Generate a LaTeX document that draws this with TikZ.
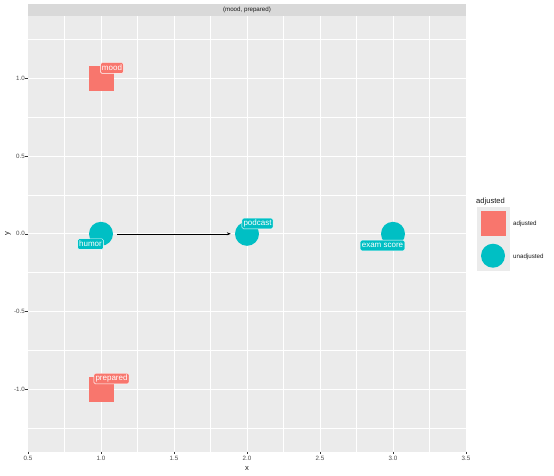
\documentclass[tikz,border=0pt]{standalone}
\usepackage{fontspec}
\setmainfont{Liberation Sans}
\usetikzlibrary{arrows.meta,positioning}
\definecolor{ggRed}{HTML}{F8766D}
\definecolor{ggCyan}{HTML}{00BFC4}
\definecolor{ggPanel}{HTML}{EBEBEB}
\definecolor{ggStrip}{HTML}{D9D9D9}
\definecolor{ggAxis}{HTML}{4D4D4D}
\definecolor{ggTickMark}{HTML}{333333}
\definecolor{ggText}{HTML}{1A1A1A}

\begin{document}
\begin{tikzpicture}[x=1pt,y=-1pt,
  adj/.style={rectangle,fill=ggRed,minimum size=25pt,inner sep=0pt},
  unadj/.style={circle,fill=ggCyan,minimum size=24pt,inner sep=0pt},
  lab/.style={draw=white,line width=0.4pt,rounded corners=1.5pt,text=white,
              font=\fontsize{8}{8}\selectfont,inner sep=1.6pt,
              text height=5.8pt,text depth=1.6pt},
  arr/.style={-{Stealth[length=4pt,width=3pt]},black,line width=0.5pt,
              shorten <=4pt,shorten >=4pt},
  ticklab/.style={font=\fontsize{6.2}{6.2}\selectfont,text=ggAxis,inner sep=0pt},
  ttl/.style={font=\fontsize{7.6}{7.6}\selectfont,text=ggText,inner sep=0pt},
  majgrid/.style={white,line width=0.8pt},
  mingrid/.style={white,line width=0.4pt}
]
  \useasboundingbox (0,0) rectangle (554,475);
  \fill[white] (0,0) rectangle (554,475);

  % Facet strip
  \fill[ggStrip] (28,4) rectangle (466,16);
  \node[ticklab,text=ggText] (strip) at (247,10) {(mood, prepared)};

  % Panel, data coordinates
  \begin{scope}[shift={(-45,233.8)},x=146pt,y=155.5pt]
    \fill[ggPanel] (0.5,-1.4) rectangle (3.5,1.4);
    \foreach \gx in {0.75,1.25,1.75,2.25,2.75,3.25}
      \draw[mingrid] (\gx,-1.4) -- (\gx,1.4);
    \foreach \gy in {-1.25,-0.75,-0.25,0.25,0.75,1.25}
      \draw[mingrid] (0.5,\gy) -- (3.5,\gy);
    \foreach \gx in {1.0,1.5,2.0,2.5,3.0}
      \draw[majgrid] (\gx,-1.4) -- (\gx,1.4);
    \foreach \gy in {-1.0,-0.5,0.0,0.5,1.0}
      \draw[majgrid] (0.5,\gy) -- (3.5,\gy);

    % Axis ticks and labels
    \foreach \gx [count=\i] in {0.5,1.0,1.5,2.0,2.5,3.0,3.5}{
      \draw[ggTickMark,line width=0.5pt] (\gx,-1.4) -- ++(0,-2.75pt);
      \node[ticklab] (xt\i) at (\gx,-1.442) {\gx};
    }
    \foreach \gy [count=\i] in {-1.0,-0.5,0.0,0.5,1.0}{
      \draw[ggTickMark,line width=0.5pt] (0.5,\gy) -- ++(-2.75pt,0);
      \node[ticklab,anchor=east] (yt\i) at (0.479,\gy) {\gy};
    }

    % Variables
    \node[adj]   (mood)     at (1,1)  {};
    \node[adj]   (prepared) at (1,-1) {};
    \node[unadj] (humor)    at (1,0)  {};
    \node[unadj] (podcast)  at (2,0)  {};
    \node[unadj] (exam)     at (3,0)  {};

    \draw[arr] (humor) -- (podcast);

    % Labels
    \node[lab,fill=ggRed]  (moodlab)     at (1.075,1.066)  {mood};
    \node[lab,fill=ggRed]  (preparedlab) at (1.072,-0.931) {prepared};
    \node[lab,fill=ggCyan] (humorlab)    at (0.928,-0.066) {humor};
    \node[lab,fill=ggCyan] (podcastlab)  at (2.072,0.066)  {podcast};
    \node[lab,fill=ggCyan] (examlab)     at (2.928,-0.075) {exam score};
  \end{scope}

  % Axis titles
  \node[ttl] (xtitle) at (247,468) {x};
  \node[ttl,rotate=90] (ytitle) at (8,234) {y};

  % Legend
  \node[ttl,anchor=west] (legtitle) at (476,202) {adjusted};
  \fill[ggPanel] (477,207) rectangle (510,271);
  \node[adj]   (keyadj)   at (493,223.3) {};
  \node[unadj] (keyunadj) at (493,255.7) {};
  \node[ticklab,text=ggText,anchor=west] (legadj)   at (513,224.3) {adjusted};
  \node[ticklab,text=ggText,anchor=west] (legunadj) at (513,256.7) {unadjusted};
\end{tikzpicture}
\end{document}
